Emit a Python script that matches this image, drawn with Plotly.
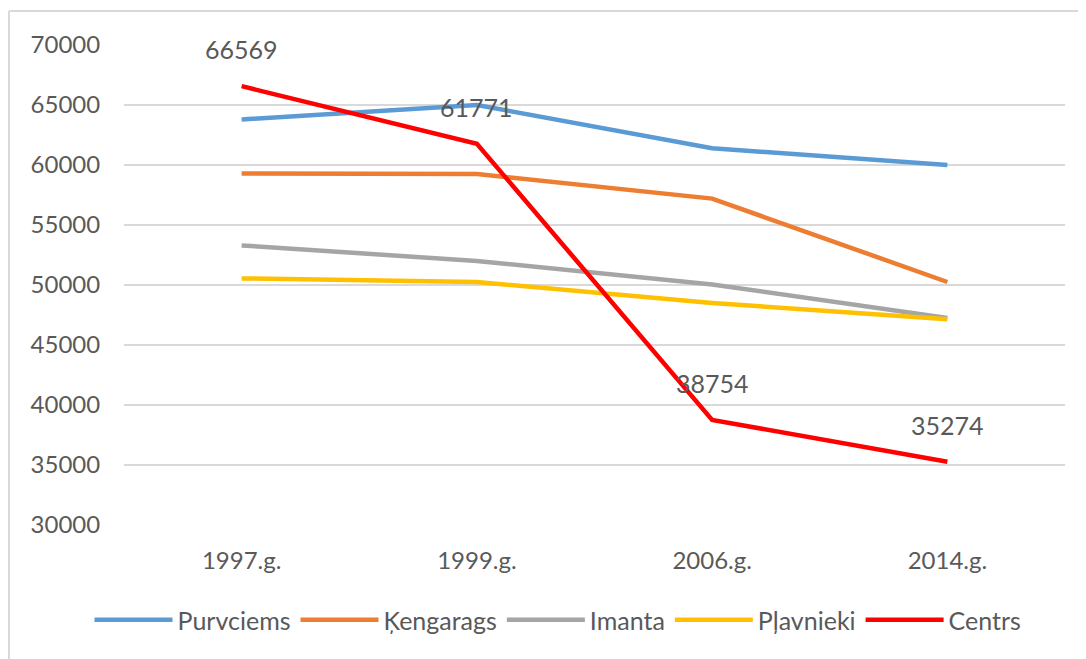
import plotly.graph_objects as go

years = ["1997.g.", "1999.g.", "2006.g.", "2014.g."]
purvciems = [63800, 65000, 61400, 60000]
kengarags = [59300, 59250, 57200, 50250]
imanta = [53300, 52000, 50050, 47250]
plavnieki = [50550, 50250, 48500, 47150]
centrs = [66569, 61771, 38754, 35274]

series_names = ["Purvciems", "Ķengarags", "Imanta", "Pļavnieki", "Centrs"]
series_values = [purvciems, kengarags, imanta, plavnieki, centrs]
colors = ["#5b9bd5", "#ed7d31", "#a5a5a5", "#ffc000", "#ff0000"]

FONT = "Lato"
TXT = "#595959"

fig = go.Figure()
for name, vals, col in zip(series_names, series_values, colors):
    fig.add_trace(go.Scatter(
        x=years, y=vals, name=name, mode="lines",
        line=dict(color=col, width=4.5),
        hoverinfo="skip",
    ))

for x, v in zip(years, centrs):
    fig.add_annotation(x=x, y=v, text=str(v), showarrow=False, yshift=37,
                       font=dict(family=FONT, size=25, color=TXT))

# page has an 8px body offset; compensate
W, H = 1078, 651
L, T = 116, 37
pw, ph = 941, 480
R = W - L - pw
B = H - T - ph
bx = (1 - L) / pw
by = 1 + (T - 3) / ph
fig.add_shape(type="line", xref="paper", yref="paper", x0=bx, x1=bx, y0=-0.5, y1=by,
              line=dict(color="#d9d9d9", width=2))
fig.add_shape(type="line", xref="paper", yref="paper", x0=bx, x1=1.2, y0=by, y1=by,
              line=dict(color="#d9d9d9", width=2))

fig.update_layout(
    width=W, height=H,
    margin=dict(l=L, r=R, t=T, b=B, autoexpand=False),
    paper_bgcolor="white", plot_bgcolor="white",
    font=dict(family=FONT, size=24, color=TXT),
    xaxis=dict(range=[-0.5, 3.5], showgrid=False, zeroline=False, showline=False,
               ticks="outside", ticklen=14, tickcolor="rgba(0,0,0,0)",
               tickfont=dict(size=24, color=TXT), fixedrange=True),
    yaxis=dict(range=[30000, 70000], dtick=5000, tickformat="d",
               showgrid=True, gridcolor="#d9d9d9", gridwidth=1.5,
               zeroline=False, showline=False,
               ticks="outside", ticklen=18, tickcolor="rgba(0,0,0,0)",
               tickfont=dict(size=24, color=TXT), fixedrange=True),
    legend=dict(orientation="h", x=(550 - L) / pw, xanchor="center",
                y=-(612 - (T + ph)) / ph, yanchor="middle",
                font=dict(size=25, color=TXT), itemwidth=78,
                bgcolor="rgba(0,0,0,0)"),
    showlegend=True,
)

fig.write_html("out.html")
